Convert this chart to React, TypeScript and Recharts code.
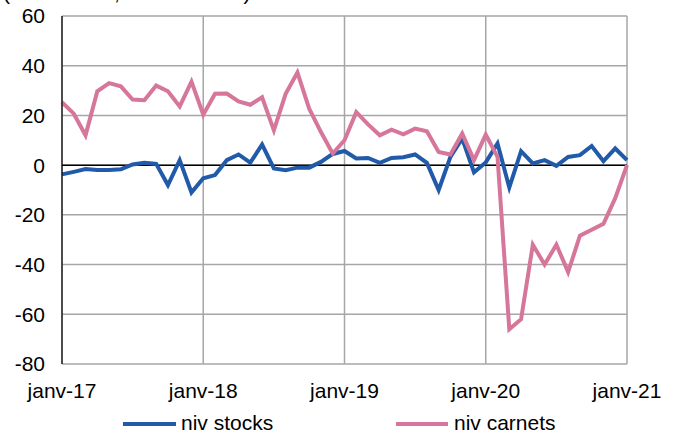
import { LineChart, Line, XAxis, YAxis, CartesianGrid, ReferenceLine, Legend } from 'recharts';

const BLUE = '#215aa8';
const PINK = '#d5769a';
const FONT = '"Liberation Sans", Arial, sans-serif';

// monthly points, janv-17 .. janv-21
const nivStocks = [
  -3.7, -2.7, -1.6, -2, -2, -1.7, 0.3, 1, 0.5, -8, 2, -11,
  -5.3, -4, 2, 4.3, 1, 8.3, -1.3, -2, -1, -1, 1.3, 4.5,
  5.7, 2.7, 2.9, 0.9, 2.9, 3.2, 4.3, 0.9, -10, 3.3, 10.7, -2.9,
  1.1, 8.7, -9, 5.6, 0.7, 2, -0.3, 3.3, 4, 7.7, 1.6, 6.7,
  2,
];

const nivCarnets = [
  25.3, 20.7, 12, 29.7, 33, 31.7, 26.4, 26.1, 32, 29.7, 23.6, 33.6,
  20.3, 28.7, 28.8, 25.6, 24.3, 27.3, 14, 28.7, 37.3, 22.7, 13.3, 4.7,
  10, 21.3, 16.4, 12, 14.3, 12.4, 14.7, 13.6, 5.3, 4.3, 12.7, 2,
  12.3, 3.3, -66, -62, -32, -40, -32, -43, -28.4, -26, -23.6, -13.3,
  0,
];

const yearTicks = [0, 12, 24, 36, 48];
const yearLabels = ['janv-17', 'janv-18', 'janv-19', 'janv-20', 'janv-21'];
const yTicks = [-80, -60, -40, -20, 0, 20, 40, 60];

const data = nivStocks.map((v, i) => ({ m: i, stocks: v, carnets: nivCarnets[i] }));

const renderLegend = () => (
  <div style={{ position: 'relative', height: 40, fontFamily: FONT, fontSize: 21, color: '#000' }}>
    <div style={{ position: 'absolute', left: 123, top: 26, width: 53, height: 4, background: BLUE }} />
    <span style={{ position: 'absolute', left: 181, top: 15, lineHeight: '24px' }}>niv stocks</span>
    <div style={{ position: 'absolute', left: 396, top: 26, width: 52, height: 4, background: PINK }} />
    <span style={{ position: 'absolute', left: 454, top: 15, lineHeight: '24px' }}>niv carnets</span>
  </div>
);

export default function App() {
  return (
    <div style={{ position: 'absolute', left: 0, top: 0, width: 675, height: 436, background: '#fff' }}>
      <svg width={675} height={20} style={{ position: 'absolute', left: 0, top: 0 }}>
        <text x={3} y={0} fontFamily={FONT} fontSize={21} fill="#000">
          (solde en %, données cvs)
        </text>
      </svg>
      <LineChart
        width={675}
        height={436}
        data={data}
        margin={{ top: 16, right: 48, bottom: 0, left: 0 }}
      >
        <CartesianGrid stroke="#a6a6a6" strokeWidth={1.5} />
        <XAxis
          dataKey="m"
          type="number"
          domain={[0, 48]}
          ticks={yearTicks}
          tickFormatter={(v: number) => yearLabels[yearTicks.indexOf(v)]}
          axisLine={false}
          tickLine={false}
          tickSize={0}
          tickMargin={19}
          height={32}
          tick={{ fontFamily: FONT, fontSize: 21, fill: '#000' }}
          interval={0}
        />
        <YAxis
          domain={[-80, 60]}
          ticks={yTicks}
          width={62}
          axisLine={{ stroke: '#000', strokeWidth: 1.2 }}
          tickLine={false}
          tickSize={0}
          tickMargin={17}
          tick={{ fontFamily: FONT, fontSize: 21, fill: '#000' }}
          interval={0}
        />
        <ReferenceLine y={0} stroke="#000" strokeWidth={1.5} />
        <Line
          dataKey="stocks"
          stroke={BLUE}
          strokeWidth={4}
          dot={false}
          isAnimationActive={false}
        />
        <Line
          dataKey="carnets"
          stroke={PINK}
          strokeWidth={4}
          dot={false}
          isAnimationActive={false}
        />
        <Legend verticalAlign="bottom" height={40} content={renderLegend} />
      </LineChart>
    </div>
  );
}
